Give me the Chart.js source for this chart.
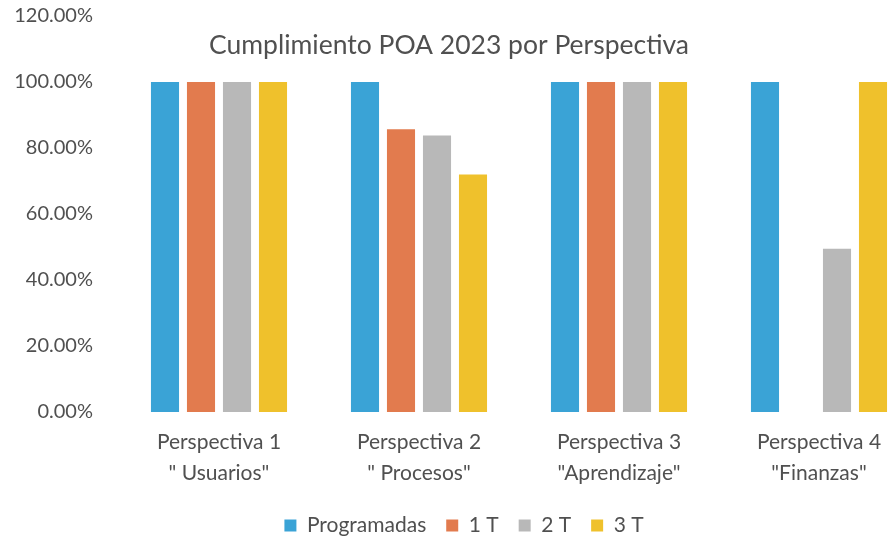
<!DOCTYPE html>
<html>
<head>
<meta charset="utf-8">
<script src="https://cdn.jsdelivr.net/npm/chart.js@4.4.0/dist/chart.umd.min.js"></script>
<style>
  html, body { margin: 0; padding: 0; background: #fff; overflow: hidden; }
  #wrap { position: relative; width: 930px; height: 542px; }
</style>
</head>
<body>
<div id="wrap"><canvas id="chart"></canvas></div>
<script>
// Categories (two-line labels)
const categories = [
  ['Perspectiva 1', '" Usuarios"'],
  ['Perspectiva 2', '" Procesos"'],
  ['Perspectiva 3', '"Aprendizaje"'],
  ['Perspectiva 4', '"Finanzas"']
];

// Series values (percent)
const programadas = [100, 100, 100, 100];
const trimestre1 = [100, 85.7, 100, 0];
const trimestre2 = [100, 83.8, 100, 49.5];
const trimestre3 = [100, 72, 100, 100];

const yTicks = [0, 20, 40, 60, 80, 100, 120];

const FONT = 'Lato, "Open Sans", sans-serif';
const TEXT = '#505050';

// Title drawn over the plot area, like the original
const titlePlugin = {
  id: 'overTitle',
  afterDraw(chart) {
    const ctx = chart.ctx;
    ctx.save();
    ctx.font = `26.5px ${FONT}`;
    ctx.fillStyle = TEXT;
    ctx.textAlign = 'center';
    ctx.textBaseline = 'middle';
    ctx.fillText('Cumplimiento POA 2023 por Perspectiva', 449, 45);
    ctx.restore();
  }
};

const ds = (label, data, color) => ({
  label,
  data,
  backgroundColor: color,
  borderWidth: 0,
  categoryPercentage: 0.72,
  barPercentage: 0.78
});

new Chart(document.getElementById('chart'), {
  type: 'bar',
  data: {
    labels: categories,
    datasets: [
      ds('Programadas', programadas, '#3aa3d6'),
      ds('1 T', trimestre1, '#e27b4e'),
      ds('2 T', trimestre2, '#b8b8b8'),
      ds('3 T', trimestre3, '#efc12c')
    ]
  },
  options: {
    responsive: true,
    maintainAspectRatio: false,
    animation: false,
    // slightly negative bottom padding: the legend padding is large to space
    // the items apart, which would otherwise lift the legend row too high
    layout: { padding: { left: 9, right: 11, top: 16, bottom: -4 } },
    plugins: {
      legend: {
        position: 'bottom',
        labels: {
          font: { family: FONT, size: 21 },
          color: TEXT,
          boxWidth: 12,
          boxHeight: 12,
          padding: 20
        }
      },
      tooltip: { enabled: false },
      title: { display: false }
    },
    scales: {
      x: {
        grid: { display: false, drawTicks: false },
        border: { display: false },
        ticks: {
          font: { family: FONT, size: 21, lineHeight: 1.5 },
          color: TEXT,
          padding: 14,
          maxRotation: 0
        },
        afterFit(scale) { scale.height = 83; }
      },
      y: {
        min: 0,
        max: 120,
        afterBuildTicks(scale) { scale.ticks = yTicks.map(v => ({ value: v })); },
        grid: { display: false, drawTicks: false },
        border: { display: false },
        ticks: {
          font: { family: FONT, size: 20 },
          color: TEXT,
          padding: 26,
          callback: v => v.toFixed(2) + '%'
        },
        afterFit(scale) {
          scale.width = 110;
          scale.paddingTop = 0;
          scale.paddingBottom = 0;
        }
      }
    }
  },
  plugins: [titlePlugin]
});
</script>
</body>
</html>
